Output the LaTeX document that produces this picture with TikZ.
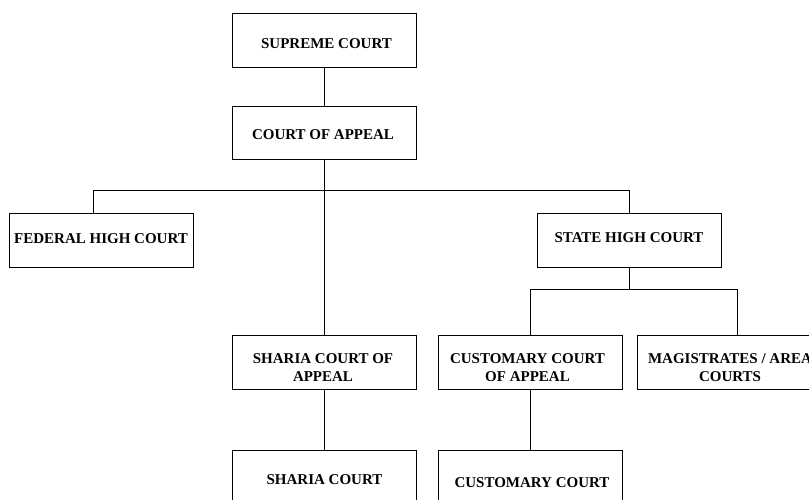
\documentclass[tikz,border=0pt]{standalone}
\usepackage{fontspec}
\setmainfont{Liberation Serif}
\begin{document}
\begin{tikzpicture}[x=1pt,y=-1pt,
  box/.style={draw=black,line width=0.9pt,minimum width=184pt,minimum height=54pt,inner sep=0pt},
  lbl/.style={inner sep=0pt,align=center,font=\fontsize{15}{18.5}\selectfont\bfseries},
  conn/.style={draw=black,line width=0.9pt}]
\useasboundingbox (0,0) rectangle (809,499);
% boxes
\node[box] (sup) at (324,40) {};
\node[box,minimum height=53pt] (coa) at (324,132.5) {};
\node[box] (fed) at (101,240) {};
\node[box] (state) at (629,240) {};
\node[box] (shca) at (324,362) {};
\node[box] (cuca) at (530,362) {};
\node[box,minimum width=188pt] (mag) at (731,362) {};
\node[box] (shc) at (324,477) {};
\node[box] (cuc) at (530,477) {};
% labels
\node[lbl] (supt) at (326.5,43.5) {SUPREME COURT};
\node[lbl] (coat) at (323,135) {COURT OF APPEAL};
\node[lbl] (fedt) at (101,238.5) {FEDERAL HIGH COURT};
\node[lbl] (statet) at (629,238) {STATE HIGH COURT};
\node[lbl] (shcat) at (323,367.5) {SHARIA COURT OF\\APPEAL};
\node[lbl] (cucat) at (527.5,367.5) {CUSTOMARY COURT\\OF APPEAL};
\node[lbl] (magt) at (730,367.5) {MAGISTRATES / AREA\\COURTS};
\node[lbl] (shct) at (324.5,480) {SHARIA COURT};
\node[lbl] (cuct) at (532,482.5) {CUSTOMARY COURT};
% connectors
\coordinate (busL) at (93,190);
\coordinate (busR) at (629,190);
\coordinate (bus2L) at (530,289);
\coordinate (bus2R) at (737,289);
\draw[conn] (sup.south) -- (coa.north);
\draw[conn] (coa.south) -- (shca.north);
\draw[conn] (fed.north -| busL) -- (busL) -- (busR) -- (state.north);
\draw[conn] (state.south) -- (state.south |- bus2L);
\draw[conn] (cuca.north) -- (bus2L) -- (bus2R) -- (bus2R |- mag.north);
\draw[conn] (shca.south) -- (shc.north);
\draw[conn] (cuca.south) -- (cuc.north);
\end{tikzpicture}
\end{document}
